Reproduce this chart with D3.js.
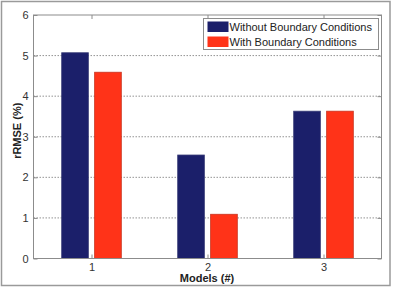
<!DOCTYPE html>
<html>
<head>
<meta charset="utf-8">
<script src="https://cdn.jsdelivr.net/npm/d3@7"></script>
<style>
  body { margin: 0; background: #fff; }
  svg { display: block; font-family: "Liberation Sans", Arial, sans-serif; }
</style>
</head>
<body>
<div id="chart"></div>
<script>
const models = [1, 2, 3]
const seriesNames = ["Without Boundary Conditions", "With Boundary Conditions"]
const withoutBC = [5.07, 2.55, 3.63]
const withBC = [4.59, 1.09, 3.63]
const yTicks = [0, 1, 2, 3, 4, 5, 6]
const colors = ["#1b1f6a", "#ff3318"]

const W = 393, H = 287
const margin = {top: 15, right: 11.5, bottom: 28.5, left: 33.5}
const w = W - margin.left - margin.right,
	h = H - margin.top - margin.bottom

const svg = d3.select("#chart").append("svg")
	.attr("width", W)
	.attr("height", H)

// outer frame
svg.append("rect")
	.attr("x", 1.5).attr("y", 1.5)
	.attr("width", 388.5).attr("height", 284)
	.attr("fill", "none")
	.attr("stroke", "#9a9a9a")
	.attr("stroke-width", 1.5)

const g = svg.append("g")
	.attr("transform", `translate(${margin.left},${margin.top})`)

const x = d3.scaleLinear().domain([0.5, 3.5]).range([0, w])
const y = d3.scaleLinear().domain([0, 6]).range([h, 0])

// grid
g.selectAll("line.grid")
	.data(yTicks.slice(1, -1))
	.enter().append("line")
	.attr("class", "grid")
	.attr("x1", 0).attr("x2", w)
	.attr("y1", d => y(d)).attr("y2", d => y(d))
	.attr("stroke", "#777")
	.attr("stroke-width", 0.8)
	.attr("stroke-dasharray", "1.5,1.5")

// bars
const bw = 0.23, off = 0.142
const series = [withoutBC, withBC]
series.forEach(function(vals, s) {
	g.selectAll(null)
		.data(vals)
		.enter().append("rect")
		.attr("x", (d, i) => x(models[i] + (s === 0 ? -off : off) - bw / 2))
		.attr("width", x(bw) - x(0))
		.attr("y", d => y(d))
		.attr("height", d => h - y(d))
		.attr("fill", colors[s])
		.attr("stroke", s === 0 ? "#3a3e78" : "#c8331f")
		.attr("stroke-width", 0.8)
})

// axes frame
g.append("rect")
	.attr("width", w).attr("height", h)
	.attr("fill", "none")
	.attr("stroke", "#8c8c8c")
	.attr("stroke-width", 1)

const fontFam = "Liberation Sans, Arial, sans-serif"

const yAxis = d3.axisLeft(y).tickValues(yTicks).tickSize(-4).tickPadding(5).tickFormat(d3.format("d"))
g.append("g").call(yAxis)
	.call(a => a.select(".domain").remove())
	.call(a => a.selectAll("line").attr("stroke", "#8c8c8c"))
	.call(a => a.selectAll("text").attr("font-size", 11).attr("fill", "#333").attr("font-family", fontFam))

g.append("g").attr("transform", `translate(${w},0)`)
	.call(d3.axisRight(y).tickValues(yTicks).tickSize(-4).tickFormat(""))
	.call(a => a.select(".domain").remove())
	.call(a => a.selectAll("line").attr("stroke", "#8c8c8c"))

const xAxis = d3.axisBottom(x).tickValues(models).tickSize(-4).tickPadding(5).tickFormat(d3.format("d"))
g.append("g").attr("transform", `translate(0,${h})`).call(xAxis)
	.call(a => a.select(".domain").remove())
	.call(a => a.selectAll("line").attr("stroke", "#8c8c8c"))
	.call(a => a.selectAll("text").attr("font-size", 11).attr("fill", "#333").attr("font-family", fontFam))

g.append("g")
	.call(d3.axisTop(x).tickValues(models).tickSize(-4).tickFormat(""))
	.call(a => a.select(".domain").remove())
	.call(a => a.selectAll("line").attr("stroke", "#8c8c8c"))

// axis labels
svg.append("text")
	.attr("transform", `translate(21,${margin.top + h / 2 - 6}) rotate(-90)`)
	.attr("text-anchor", "middle")
	.attr("font-size", 11)
	.attr("font-weight", "bold")
	.attr("fill", "#222")
	.text("rRMSE (%)")

svg.append("text")
	.attr("x", 207)
	.attr("y", 282)
	.attr("text-anchor", "middle")
	.attr("font-size", 11)
	.attr("font-weight", "bold")
	.attr("fill", "#222")
	.text("Models (#)")

// legend
const legend = svg.append("g").attr("transform", "translate(203.5,18.5)")
legend.append("rect")
	.attr("width", 175).attr("height", 31)
	.attr("fill", "#fff")
	.attr("stroke", "#8c8c8c")
	.attr("stroke-width", 1)

seriesNames.forEach(function(name, i) {
	legend.append("rect")
		.attr("x", 4).attr("y", 3 + i * 15)
		.attr("width", 21).attr("height", 10.5)
		.attr("fill", colors[i])
	legend.append("text")
		.attr("x", 26).attr("y", 12.5 + i * 15)
		.attr("font-size", 11)
		.attr("fill", "#222")
		.text(name)
})
</script>
</body>
</html>
